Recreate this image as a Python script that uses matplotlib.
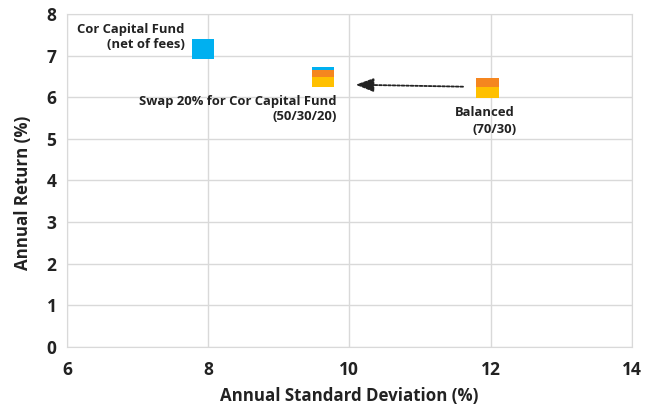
import matplotlib.pyplot as plt

plt.rcParams['font.family'] = ['Open Sans', 'DejaVu Sans']

# Portfolio data
names = ['Cor Capital Fund', 'Swap 20%', 'Balanced']
std_dev = [7.93, 9.63, 11.96]
annual_return = [7.15, 6.49, 6.21]

# Share of each marker block by colour (yellow, orange, blue), bottom to top
yellow_share = [0.0, 0.48, 0.58]
orange_share = [0.0, 0.38, 0.42]
blue_share = [1.0, 0.14, 0.0]

x_ticks = [6, 8, 10, 12, 14]
y_ticks = [0, 1, 2, 3, 4, 5, 6, 7, 8]

colors = {'yellow': '#FFC000', 'orange': '#F5861F', 'blue': '#00B0F0'}
dark = '#222222'

fig = plt.figure(figsize=(6.56, 4.09), dpi=100)
ax = fig.add_axes([0.102, 0.152, 0.861, 0.814])

# Marker blocks drawn as stacked bars centred on each point
box_w = 0.32
box_h = 0.48
for x, y, ys, os_, bs in zip(std_dev, annual_return, yellow_share, orange_share, blue_share):
    bottom = y - box_h / 2
    for share, key in [(ys, 'yellow'), (os_, 'orange'), (bs, 'blue')]:
        if share > 0:
            ax.bar(x, share * box_h, bottom=bottom, width=box_w,
                   color=colors[key], linewidth=0, zorder=3)
            bottom += share * box_h

# Arrow from Balanced to the swap portfolio
ax.annotate('', xy=(10.05, 6.3), xytext=(11.65, 6.25),
            arrowprops=dict(arrowstyle='-|>,head_length=1.0,head_width=0.38',
                            mutation_scale=11, color=dark, lw=1.3,
                            linestyle=(0, (1.5, 1))),
            zorder=4)

label_kw = dict(fontsize=9.4, fontweight='bold', color=dark)
ax.text(7.67, 7.45, 'Cor Capital Fund\n(net of fees)', ha='right', va='center',
        multialignment='right', linespacing=1.25, **label_kw)
ax.text(9.82, 5.71, 'Swap 20% for Cor Capital Fund\n(50/30/20)', ha='right', va='center',
        multialignment='right', linespacing=1.25, **label_kw)
ax.text(11.49, 5.63, 'Balanced', ha='left', va='center', **label_kw)
ax.text(11.75, 5.23, '(70/30)', ha='left', va='center', **label_kw)

ax.set_xlim(6, 14)
ax.set_ylim(0, 8)
ax.set_xticks(x_ticks)
ax.set_yticks(y_ticks)
ax.tick_params(axis='x', length=0, labelsize=12.5, colors=dark, pad=10)
ax.tick_params(axis='y', length=0, labelsize=12.5, colors=dark, pad=7.5)
for lab in ax.get_xticklabels() + ax.get_yticklabels():
    lab.set_fontweight('bold')

ax.grid(True, color='#d9d9d9', linewidth=1)
ax.set_axisbelow(True)
for sp in ax.spines.values():
    sp.set_color('#d9d9d9')

ax.set_xlabel('Annual Standard Deviation (%)', fontsize=12.2, fontweight='bold', color=dark)
ax.set_ylabel('Annual Return (%)', fontsize=12.2, fontweight='bold', color=dark)
ax.xaxis.set_label_coords(0.5, -0.122)
ax.yaxis.set_label_coords(-0.062, 0.462)

fig.savefig('out.png', dpi=100)
